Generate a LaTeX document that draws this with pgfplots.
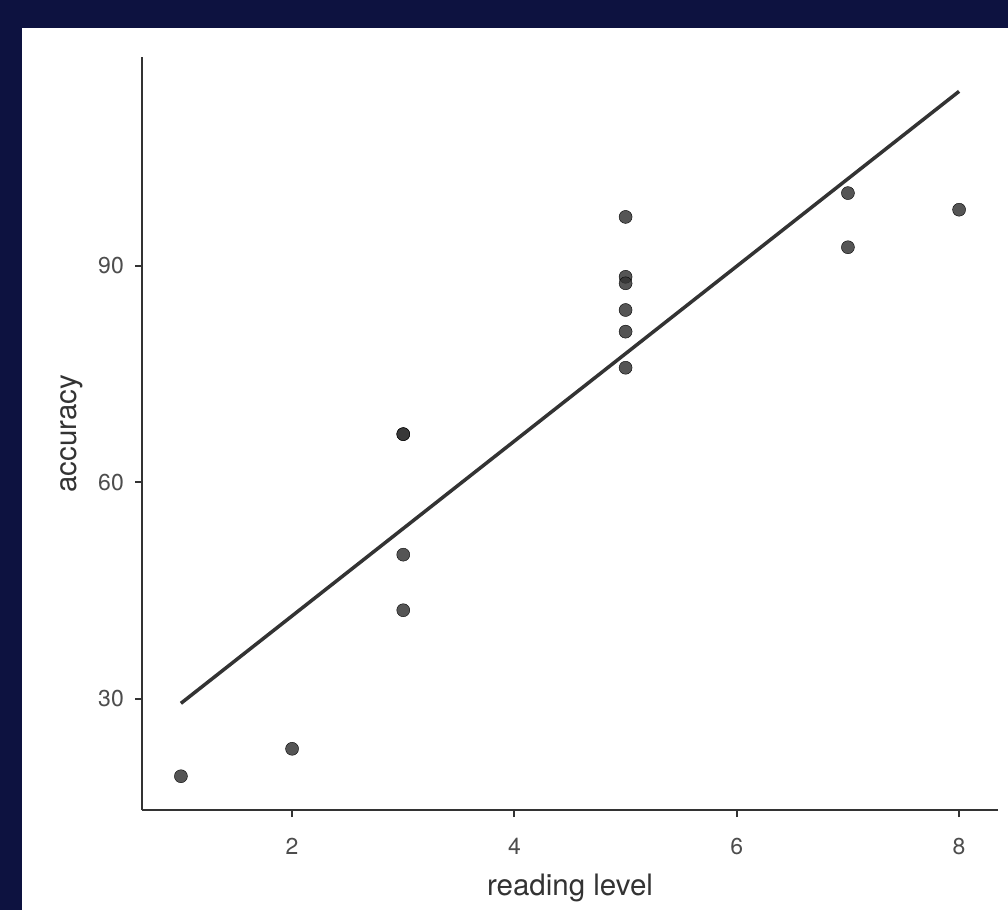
\documentclass[border=0pt]{standalone}
\usepackage{pgfplots}
\pgfplotsset{compat=1.18}
\usepackage{fontspec}
\setmainfont{TeX Gyre Heros}
\definecolor{navy}{RGB}{13,18,64}
\definecolor{ink}{RGB}{51,51,51}
\definecolor{ticktext}{RGB}{77,77,77}
\begin{document}
\begin{tikzpicture}[x=1pt,y=1pt]
\fill[navy] (0,0) rectangle (1008,910);
\fill[white] (22,0) rectangle (1008,882);
\begin{axis}[
  at={(142pt,100pt)}, anchor=south west,
  scale only axis, width=856pt, height=753pt,
  xmin=0.65, xmax=8.35, ymin=14.62, ymax=118.96,
  axis x line*=bottom, axis y line*=left,
  axis line style={ink, line width=2pt, -},
  xtick={2,4,6,8}, ytick={30,60,90},
  tick align=outside, major tick length=7pt,
  tick style={ink, line width=2pt},
  /pgf/number format/assume math mode=true,
  xticklabel style={font=\fontsize{23}{23}\selectfont, text=ticktext, anchor=base, inner sep=0pt, yshift=-37pt},
  yticklabel style={font=\fontsize{23}{23}\selectfont, text=ticktext, anchor=east, inner sep=0pt, xshift=-11pt},
]
\addplot[only marks, mark=*, mark size=6.5pt, mark options={draw=none, fill=ink, fill opacity=0.83}] coordinates {
(1,19.3) (2,23.1) (3,66.7) (3,66.7) (3,50.0) (3,42.3)
(5,96.8) (5,88.5) (5,87.6) (5,83.9) (5,80.9) (5,75.9)
(7,100.1) (7,92.6) (8,97.8)
};
\addplot[ink, line width=3.5pt, no marks] coordinates {(1,29.4) (8,114.2)};
\end{axis}
\node[anchor=base, font=\fontsize{29.5}{30}\selectfont, text=ink] at (570,15) {reading level};
\node[anchor=base, rotate=90, font=\fontsize{29.5}{30}\selectfont, text=ink] at (76,476.5) {accuracy};
\end{tikzpicture}
\end{document}
